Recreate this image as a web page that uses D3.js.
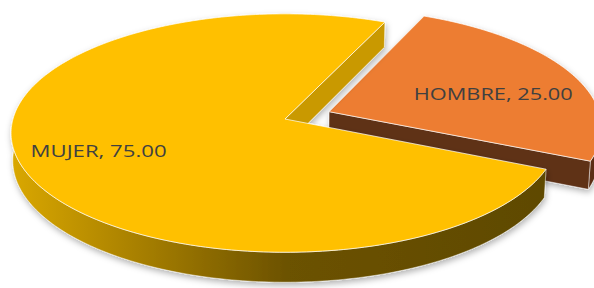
<!DOCTYPE html>
<html>
<head>
<meta charset="utf-8">
<script src="https://cdn.jsdelivr.net/npm/d3@7"></script>
<style>
  body { margin: 0; background: #fff; }
  svg { display: block; }
</style>
</head>
<body>
<svg id="chart" width="594" height="288"></svg>
<script>
// data
const categories = ["HOMBRE", "MUJER"];
const values = [25.00, 75.00];
const topColors = ["#ED7D31", "#FFC000"];
const explodeBy = [0.175, 0];

/*  */
/* Parameters and projection */
/*  */

const svg = d3.select("#chart");
const cx = 285, cy = 119;            // screen point of the pie centre
const elev = 25.6 * Math.PI / 180;   // camera elevation
const dist = 7.65;                   // camera distance (in radii)
const focal = 2081;
const thick = 0.112;                 // pie height (in radii)
const se = Math.sin(elev), ce = Math.cos(elev);

function project(X, Y, Z) {
  const vy = Y + dist * ce, vz = Z - dist * se;
  const depth = vy * ce - vz * se;
  const sy = vy * se + vz * ce;
  return [cx + focal * X / depth, cy - focal * sy / depth];
}

const pie = d3.pie().sort(null).value(d => d.value).startAngle(24 * Math.PI / 180)
  .endAngle(24 * Math.PI / 180 + 2 * Math.PI);
const arcs = pie(categories.map((c, i) => ({ cat: c, value: values[i], i })));

const line = d3.line();

function rim(a, ox, oy, z) { return project(Math.sin(a) + ox, Math.cos(a) + oy, z); }
function arcPts(a0, a1, ox, oy, z) {
  const n = Math.max(2, Math.ceil(Math.abs(a1 - a0) / (Math.PI / 180)));
  return d3.range(n + 1).map(k => rim(a0 + (a1 - a0) * k / n, ox, oy, z));
}

/*  */
/* Defs: gradients and shadow */
/*  */

const defs = svg.append("defs");
const f = defs.append("filter").attr("id", "shadow")
  .attr("x", "-10%").attr("y", "-10%").attr("width", "120%").attr("height", "130%");
f.append("feDropShadow").attr("dx", 1).attr("dy", 3).attr("stdDeviation", 3)
  .attr("flood-color", "#000").attr("flood-opacity", 0.3);

const gY = defs.append("linearGradient").attr("id", "sideY")
  .attr("gradientUnits", "userSpaceOnUse").attr("x1", 13).attr("x2", 560).attr("y1", 0).attr("y2", 0);
[[0, "#D9A700"], [0.25, "#A37C00"], [0.5, "#6C5200"], [1, "#5E4900"]]
  .forEach(s => gY.append("stop").attr("offset", s[0]).attr("stop-color", s[1]));

const sideFill = ["#5B2F16", "url(#sideY)"];
const cutFill = ["#5E3218", "#C99900"];

/*  */
/* Slices, far ones first */
/*  */

const order = arcs.slice().sort((a, b) =>
  Math.cos((b.startAngle + b.endAngle) / 2) - Math.cos((a.startAngle + a.endAngle) / 2));

order.forEach(d => {
  const i = d.data.i;
  const a0 = d.startAngle, a1 = d.endAngle, mid = (a0 + a1) / 2;
  const ox = explodeBy[i] * Math.sin(mid), oy = explodeBy[i] * Math.cos(mid);
  const g = svg.append("g").attr("filter", "url(#shadow)");

  // outer wall, only the part that faces the viewer
  [0, 1].forEach(k => {
    const lo = Math.max(a0, Math.PI / 2 + 2 * Math.PI * k);
    const hi = Math.min(a1, 3 * Math.PI / 2 + 2 * Math.PI * k);
    if (hi <= lo) return;
    const pts = arcPts(lo, hi, ox, oy, 0).concat(arcPts(hi, lo, ox, oy, -thick));
    g.append("path").attr("d", line(pts) + "Z")
      .attr("fill", sideFill[i])
      .attr("stroke", "#fff").attr("stroke-opacity", 0.6).attr("stroke-width", 0.8);
  });

  // cut faces
  const c0 = project(ox, oy, 0), c1 = project(ox, oy, -thick);
  [[a0, Math.sin(a0) < 0], [a1, Math.sin(a1) > 0]].forEach(([a, vis]) => {
    if (!vis) return;
    const pts = [c0, rim(a, ox, oy, 0), rim(a, ox, oy, -thick), c1];
    g.append("path").attr("d", line(pts) + "Z")
      .attr("fill", cutFill[i])
      .attr("stroke", "#fff").attr("stroke-opacity", 0.6).attr("stroke-width", 0.8);
  });

  // top face
  const top = [c0].concat(arcPts(a0, a1, ox, oy, 0));
  g.append("path").attr("d", line(top) + "Z")
    .attr("fill", topColors[i])
    .attr("stroke", "#fff").attr("stroke-opacity", 0.7).attr("stroke-width", 1);
});

/*  */
/* Labels */
/*  */

const labelAt = { HOMBRE: [0.645, 6], MUJER: [0.712, 0] }; // radius, angle shift (deg)
const labelLen = { HOMBRE: 159, MUJER: 136 };

arcs.forEach(d => {
  const i = d.data.i;
  const mid = (d.startAngle + d.endAngle) / 2;
  const ox = explodeBy[i] * Math.sin(mid), oy = explodeBy[i] * Math.cos(mid);
  const [r, shift] = labelAt[d.data.cat];
  const a = mid + shift * Math.PI / 180;
  const p = project(r * Math.sin(a) + ox, r * Math.cos(a) + oy, 0);
  svg.append("text")
    .attr("x", p[0]).attr("y", p[1] + 7)
    .attr("text-anchor", "middle")
    .attr("font-family", "'Open Sans', sans-serif")
    .attr("font-size", 16.5)
    .attr("fill", "#404040")
    .attr("textLength", labelLen[d.data.cat])
    .attr("lengthAdjust", "spacingAndGlyphs")
    .text(d.data.cat + ", " + d.data.value.toFixed(2));
});
</script>
</body>
</html>
